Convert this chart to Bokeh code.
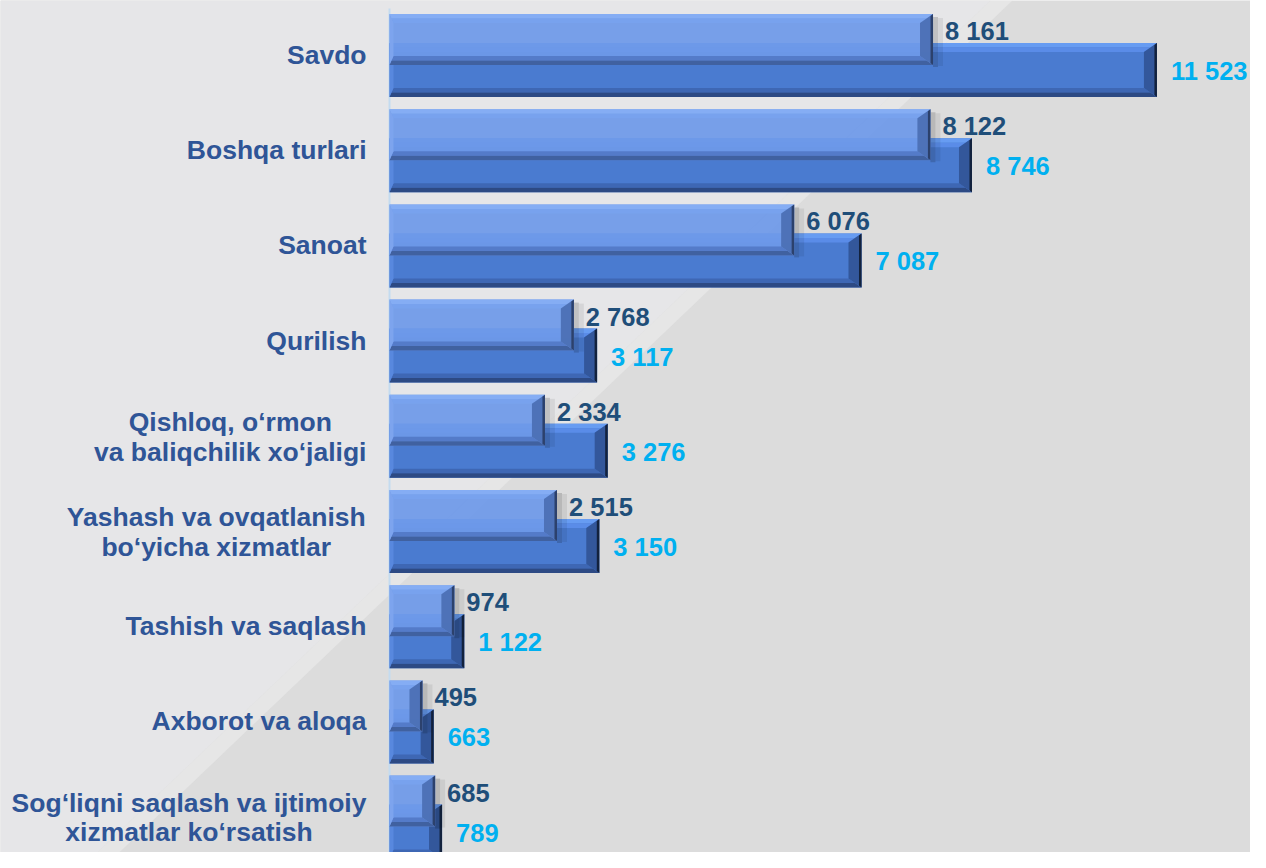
from bokeh.plotting import figure
from bokeh.models import Range1d, ColumnDataSource
from bokeh.core.properties import value
from bokeh.embed import file_html
from bokeh.resources import INLINE

# ---------------- data ----------------
categories = [
    "Savdo",
    "Boshqa turlari",
    "Sanoat",
    "Qurilish",
    "Qishloq, o‘rmon\nva baliqchilik xo‘jaligi",
    "Yashash va ovqatlanish\nbo‘yicha xizmatlar",
    "Tashish va saqlash",
    "Axborot va aloqa",
    "Sog‘liqni saqlash va ijtimoiy\nxizmatlar ko‘rsatish",
]
series_a = [8161, 8122, 6076, 2768, 2334, 2515, 974, 495, 685]
series_b = [11523, 8746, 7087, 3117, 3276, 3150, 1122, 663, 789]

# ---------------- layout ----------------
W, H = 1250, 852
X0_PX = 389            # frame px where value 0 sits
PX_PER_UNIT = 0.0666   # px per unit of value
CAT0_PX = 54.5         # frame px of first category centre
CAT_STEP_PX = 95.2

x_start = -X0_PX / PX_PER_UNIT
x_end = x_start + W / PX_PER_UNIT
y_end = CAT0_PX / CAT_STEP_PX
y_start = y_end - H / CAT_STEP_PX
UX = 1 / PX_PER_UNIT
UY = 1 / CAT_STEP_PX


def X(px):
    return x_start + px * UX


def Y(py):
    return y_end - py * UY


p = figure(width=W, height=H, x_range=Range1d(x_start, x_end),
           y_range=Range1d(y_start, y_end), output_backend="svg",
           toolbar_location=None, min_border=0,
           x_axis_location=None, y_axis_location=None)
p.grid.visible = False
p.outline_line_color = None
p.background_fill_color = "#dcdcdc"
p.border_fill_color = "#dcdcdc"

# ---------------- background ----------------
p.patch([X(0), X(990), X(80), X(0)], [Y(0), Y(0), Y(868), Y(868)],
        fill_color="#e6e6e8", line_color=None)
p.patch([X(990), X(1012), X(102), X(80)], [Y(0), Y(0), Y(868), Y(868)],
        fill_color="#f0f0f0", fill_alpha=0.5, line_color=None)

# axis line
p.segment(x0=[0], y0=[y_start], x1=[0], y1=[Y(8)],
          line_color="#c4dbef", line_width=2)


# ---------------- bevelled bars ----------------
def bevel_bars(vals, off_px, h_px, cols, alpha):
    bx, bt, bb, bl, be = 13 * UX, 9 * UY, 9 * UY, 4 * UX, 2.5 * UX
    faces = {k: ([], []) for k in ["top", "top2", "bot", "bot2", "right", "edge", "left"]}
    ys, rights = [], []
    for i, v in enumerate(vals):
        c = -i - off_px * UY
        T = c + h_px / 2 * UY
        B = c - h_px / 2 * UY
        ys.append(c)
        rights.append(v)
        hb = min(bx, v * 0.45)
        faces["top"][0].append([0, v, v - hb / 2, bl / 2])
        faces["top"][1].append([T, T, T - bt / 2, T - bt / 2])
        faces["top2"][0].append([bl / 2, v - hb / 2, v - hb, bl])
        faces["top2"][1].append([T - bt / 2, T - bt / 2, T - bt, T - bt])
        faces["bot"][0].append([bl, v - hb, v - hb / 2, bl / 2])
        faces["bot"][1].append([B + bb, B + bb, B + bb / 2, B + bb / 2])
        faces["bot2"][0].append([bl / 2, v - hb / 2, v, 0])
        faces["bot2"][1].append([B + bb / 2, B + bb / 2, B, B])
        faces["right"][0].append([v - hb, v, v, v - hb])
        faces["right"][1].append([T - bt, T, B, B + bb])
        faces["edge"][0].append([v - be, v, v, v - be])
        faces["edge"][1].append([T - 2 * UY, T, B, B + 2 * UY])
        faces["left"][0].append([0, bl, bl, 0])
        faces["left"][1].append([T, T - bt, B + bb, B])
    p.hbar(y=ys, left=0, right=rights, height=h_px * UY,
           fill_color=cols["main"], fill_alpha=alpha, line_color=None)
    for k, (xs, yy) in faces.items():
        p.patches(xs, yy, fill_color=cols[k], fill_alpha=alpha, line_color=None)


cols_b = dict(main="#4a7bd0", top="#679cf2", top2="#5a8ce8", bot="#3e67b4",
              bot2="#2d4a84", right="#33579b", edge="#13223d", left="#5888de")
cols_a = dict(main="#6e99e8", top="#86aef4", top2="#78a2ee", bot="#5379c6",
              bot2="#3d5d9a", right="#4b6fb4", edge="#2a3d66", left="#7ea5ee")

bevel_bars(series_b, 15, 54, cols_b, 1.0)

# soft shadow to the right of the front bars
sh_y = [-i + 13 * UY for i in range(len(series_a))]
p.hbar(y=sh_y, left=series_a, right=[v + 5 * UX for v in series_a], height=50 * UY,
       fill_color="#000000", fill_alpha=0.16, line_color=None)
p.hbar(y=sh_y, left=[v + 5 * UX for v in series_a], right=[v + 10 * UX for v in series_a],
       height=48 * UY, fill_color="#000000", fill_alpha=0.07, line_color=None)

bevel_bars(series_a, -15.5, 51, cols_a, 0.93)

# ---------------- value labels ----------------
def fmt(v):
    return f"{v:,}".replace(",", " ")


src_a = ColumnDataSource(dict(x=[v + 12 * UX for v in series_a],
                              y=[-i + 24 * UY for i in range(len(series_a))],
                              t=[fmt(v) for v in series_a]))
src_b = ColumnDataSource(dict(x=[v + 14 * UX for v in series_b],
                              y=[-i - 16 * UY for i in range(len(series_b))],
                              t=[fmt(v) for v in series_b]))
for src, color in [(src_a, "#1f4e79"), (src_b, "#00b0f0")]:
    p.text(x="x", y="y", text="t", source=src, text_color=color,
           text_font=value("Liberation Sans"), text_font_style="bold",
           text_font_size="25.5px", text_align="left", text_baseline="middle")

# ---------------- category labels ----------------
ARIAL_BOLD = {' ': 278, '‘': 278, ',': 278, 'a': 556, 'b': 611, 'c': 556, 'd': 611,
              'e': 556, 'f': 333, 'g': 611, 'h': 611, 'i': 278, 'j': 278, 'k': 556,
              'l': 278, 'm': 889, 'n': 611, 'o': 611, 'p': 611, 'q': 611, 'r': 389,
              's': 556, 't': 333, 'u': 611, 'v': 556, 'w': 778, 'x': 556, 'y': 556,
              'z': 500, 'Q': 778, 'Y': 667, 'S': 667, 'B': 722, 'T': 611, 'A': 722}
FS = 26.5
RIGHT_PX = 366
LINE_PX = 29.5


def text_w(s):
    return sum(ARIAL_BOLD.get(ch, 600) for ch in s) / 1000 * FS


lx, ly, lt, la = [], [], [], []
for i, cat in enumerate(categories):
    lines = cat.split("\n")
    if len(lines) == 1:
        lx.append(X(RIGHT_PX))
        ly.append(-i)
        lt.append(cat)
        la.append("right")
    else:
        wmax = max(text_w(s) for s in lines)
        cx = RIGHT_PX - wmax / 2
        n = len(lines)
        for k, s in enumerate(lines):
            dy = (k - (n - 1) / 2) * LINE_PX + 1
            lx.append(X(cx))
            ly.append(-i - dy * UY)
            lt.append(s)
            la.append("center")

p.text(x="x", y="y", text="t", text_align="a",
       source=ColumnDataSource(dict(x=lx, y=ly, t=lt, a=la)),
       text_color="#2f5597", text_font=value("Liberation Sans"),
       text_font_style="bold", text_font_size=f"{FS}px", text_baseline="middle")

open("out.html", "w").write(file_html(p, INLINE))
